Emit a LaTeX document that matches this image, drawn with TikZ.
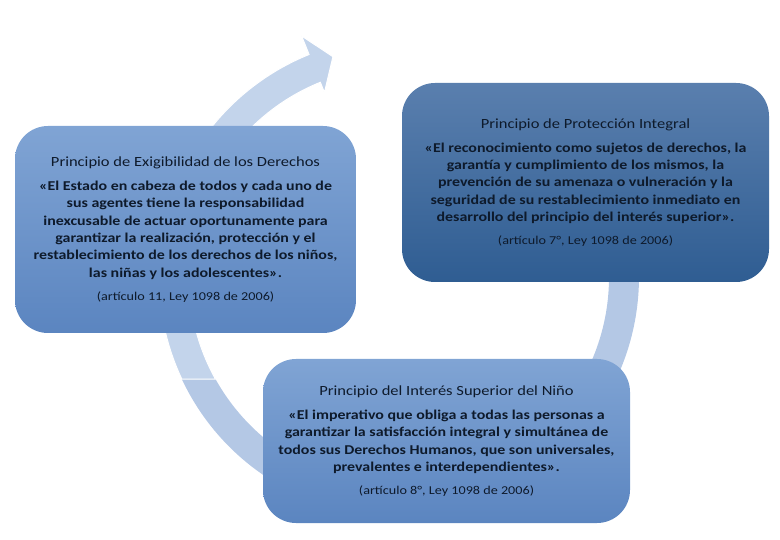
\documentclass[tikz,border=0pt]{standalone}
\usepackage{fontspec}
\setmainfont{Carlito}[FakeStretch=1.18]
\definecolor{anilloclaro}{HTML}{C3D4EB}
\definecolor{anillo}{HTML}{B4C8E5}
\definecolor{claroarriba}{HTML}{80A4D4}
\definecolor{claroabajo}{HTML}{5B85C0}
\definecolor{oscuroarriba}{HTML}{5A7FAE}
\definecolor{oscuroabajo}{HTML}{2F5D92}
\definecolor{texto}{HTML}{0E1A2B}
\begin{document}
\begin{tikzpicture}[x=1pt,y=-1pt,
	caja/.style={rounded corners=33pt, align=center, text=texto, inner sep=0pt, font=\fontsize{13.5}{17.3}\selectfont\bfseries},
	cajaclara/.style={caja, top color=claroarriba, bottom color=claroabajo},
	cajaoscura/.style={caja, top color=oscuroarriba, bottom color=oscuroabajo}]
	
	\useasboundingbox (0,0) rectangle (780,540);
	
	\coordinate (centro) at (399,277);
	
	\fill [anillo] ([shift={(centro)}]-50:210) arc [start angle=-50, end angle=150.9, radius=210] -- ([shift={(centro)}]154.8:240) arc [start angle=154.8, end angle=-50, radius=240] -- cycle;
	
	\filldraw [anilloclaro, draw=white, line width=1pt] ([shift={(centro)}]150.9:210) arc [start angle=150.9, end angle=248, radius=210] -- ([shift={(centro)}]248:199) -- ([shift={(centro)}]253.3:230) -- ([shift={(centro)}]248:260) -- ([shift={(centro)}]248:240) arc [start angle=248, end angle=154.8, radius=240] -- cycle;
	
	\node [cajaclara, minimum width=341pt, minimum height=207pt] (exigibilidad) at (185.5,229.5) {\mdseries\fontsize{14}{17.3}\selectfont Principio de Exigibilidad de los Derechos\\[6.7pt]
		«El Estado en cabeza de todos y cada uno de\\ sus agentes tiene la responsabilidad\\ inexcusable de actuar oportunamente para\\ garantizar la realización, protección y el\\ restablecimiento de los derechos de los niños,\\ las niñas y los adolescentes».\\[5.7pt]
		\mdseries\fontsize{12}{17.3}\selectfont (artículo 11, Ley 1098 de 2006)};
	
	\node [cajaoscura, minimum width=367pt, minimum height=199pt] (proteccion) at (585.5,182.5) {\mdseries\fontsize{14}{17.3}\selectfont Principio de Protección Integral\\[6.7pt]
		«El reconocimiento como sujetos de derechos, la\\ garantía y cumplimiento de los mismos, la\\ prevención de su amenaza o vulneración y la\\ seguridad de su restablecimiento inmediato en\\ desarrollo del principio del interés superior».\\[5.7pt]
		\mdseries\fontsize{12}{17.3}\selectfont (artículo 7°, Ley 1098 de 2006)};
	
	\node [cajaclara, minimum width=367pt, minimum height=164pt] (interes) at (446.5,441) {\mdseries\fontsize{14}{17.3}\selectfont Principio del Interés Superior del Niño\\[6.7pt]
		«El imperativo que obliga a todas las personas a\\ garantizar la satisfacción integral y simultánea de\\ todos sus Derechos Humanos, que son universales,\\ prevalentes e interdependientes».\\[5.7pt]
		\mdseries\fontsize{12}{17.3}\selectfont (artículo 8°, Ley 1098 de 2006)};
	
\end{tikzpicture}
\end{document}
